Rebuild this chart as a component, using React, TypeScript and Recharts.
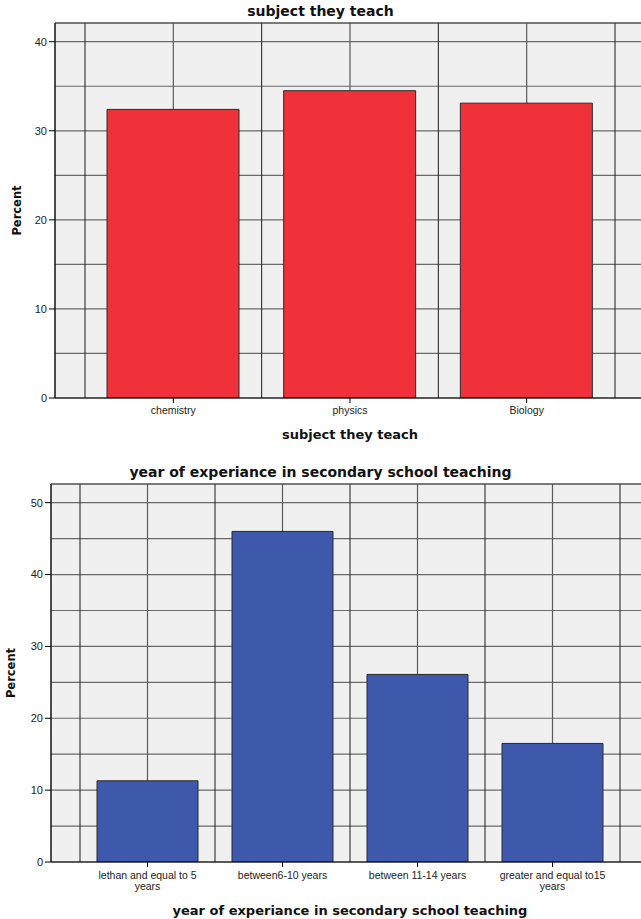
import React from 'react';
import { BarChart, Bar, XAxis, YAxis, CartesianGrid, ReferenceLine } from 'recharts';

const subjects = ['chemistry', 'physics', 'Biology'];
const subjectPercent = [32.4, 34.5, 33.1];
const subjectTicks = [0, 10, 20, 30, 40];
const subjectGridTicks = [0, 5, 10, 15, 20, 25, 30, 35, 40];

const yearGroups = [
  'lethan and equal to 5 years',
  'between6-10 years',
  'between 11-14 years',
  'greater and equal to15 years',
];
const yearPercent = [11.3, 46.0, 26.1, 16.5];
const yearTicks = [0, 10, 20, 30, 40, 50];
const yearGridTicks = [0, 5, 10, 15, 20, 25, 30, 35, 40, 45, 50];

const FONT = '"Liberation Sans", Arial, sans-serif';
const BOLD = '"DejaVu Sans", Verdana, sans-serif';

// category tick: mark + (wrapped) name at whole positions only, nothing at band edges
const CatTick = ({ x, y, payload, cats, firstDy }: any) => {
  const v = Number(payload.value);
  if (!Number.isInteger(v) || !cats[v]) return <g />;
  const label = String(cats[v]);
  const words = label.split(' ');
  const lines = label.length > 22 ? [words.slice(0, -1).join(' '), words[words.length - 1]] : [label];
  return (
    <g transform={`translate(${x},${y})`}>
      <line x1={0} x2={0} y1={-7} y2={-2} stroke="#000" />
      <text textAnchor="middle" fontSize={10.5} fill="#222" fontFamily={FONT}>
        {lines.map((l, i) => (
          <tspan key={i} x={0} dy={i === 0 ? firstDy : 10.5}>{l}</tspan>
        ))}
      </text>
    </g>
  );
};

const GridLine = (props: any) => {
  const { x1, x2, y1, y2, index } = props;
  const edge = index % 2 === 0;
  return (
    <line
      x1={x1} x2={x2} y1={y1} y2={y2}
      stroke={edge ? '#1a1a1a' : '#5a5a5a'}
      strokeWidth={edge ? 1 : 1.2}
    />
  );
};

type PanelProps = {
  cats: string[];
  values: number[];
  ticks: number[];
  gridTicks: number[];
  yMax: number;
  color: string;
  width: number;
  height: number;
  top: number;
  yWidth: number;
  xHeight: number;
  pad: number;
  barSize: number;
  title: string;
  titleTop: number;
  labelOffset: number;
  xLabelOffset: number;
  tickDy: number;
  panelTop: number;
};

const Panel = (p: PanelProps) => {
  const data = p.cats.map((c, i) => ({ idx: i, cat: c, value: p.values[i] }));
  const n = p.cats.length;
  const xTicks: number[] = [];
  for (let i = 0; i <= 2 * n; i++) xTicks.push(-0.5 + i / 2);
  return (
    <div style={{ position: 'absolute', left: 0, top: p.panelTop }}>
      <div
        style={{
          position: 'absolute', left: 0, width: 641, top: p.titleTop, textAlign: 'center',
          fontFamily: BOLD, fontWeight: 'bold', fontSize: 14, color: '#111', lineHeight: '16px',
        }}
      >
        {p.title}
      </div>
      <BarChart
        width={p.width}
        height={p.height}
        data={data}
        margin={{ top: p.top, right: 1, bottom: 0, left: 0 }}
      >
        <XAxis
          dataKey="idx"
          type="number"
          domain={[-0.5, n - 0.5]}
          ticks={xTicks}
          allowDataOverflow
          padding={{ left: p.pad, right: p.pad }}
          height={p.xHeight}
          interval={0}
          tickSize={5}
          tickMargin={2}
          tickLine={false}
          stroke="#000"
          tick={<CatTick cats={p.cats} firstDy={p.tickDy} />}
          label={{
            value: p.title, position: 'insideBottom', offset: p.xLabelOffset,
            style: { fontFamily: BOLD, fontWeight: 'bold', fontSize: 13, fill: '#111' },
          }}
        />
        <YAxis
          type="number"
          domain={[0, p.yMax]}
          ticks={p.ticks}
          allowDataOverflow
          width={p.yWidth}
          tickSize={6}
          tickMargin={2}
          stroke="#000"
          tick={{ fontSize: 11, fill: '#222', fontFamily: FONT }}
          label={{
            value: 'Percent', angle: -90, position: 'insideLeft', offset: p.labelOffset,
            style: { fontFamily: BOLD, fontWeight: 'bold', fontSize: 11.5, fill: '#111', textAnchor: 'middle' },
          }}
        />
        <YAxis yAxisId="grid" orientation="right" type="number" domain={[0, p.yMax]} ticks={p.gridTicks} allowDataOverflow hide />
        <CartesianGrid yAxisId="grid" vertical={false} stroke="#6a6a6a" fill="#f0f0f0" strokeWidth={1.2} />
        <CartesianGrid horizontal={false} vertical={(props: any) => <GridLine {...props} />} />
        <ReferenceLine y={p.yMax} stroke="#444" strokeWidth={1} />
        <Bar
          dataKey="value"
          fill={p.color}
          stroke="#2a2a2a"
          strokeWidth={1}
          barSize={p.barSize}
          isAnimationActive={false}
        />
      </BarChart>
    </div>
  );
};

export default function App() {
  return (
    <div style={{ position: 'absolute', left: 0, top: 0, width: 641, height: 919, overflow: 'hidden', background: '#fff' }}>
      <Panel
        cats={subjects}
        values={subjectPercent}
        ticks={subjectTicks}
        gridTicks={subjectGridTicks}
        yMax={42.1}
        color="#ef313a"
        width={646}
        height={445}
        top={23}
        yWidth={55}
        xHeight={47}
        pad={30}
        barSize={132}
        title="subject they teach"
        titleTop={3}
        labelOffset={17}
        xLabelOffset={6}
        tickDy={9}
        panelTop={0}
      />
      <Panel
        cats={yearGroups}
        values={yearPercent}
        ticks={yearTicks}
        gridTicks={yearGridTicks}
        yMax={52.6}
        color="#3e58ab"
        width={650}
        height={464}
        top={29}
        yWidth={51}
        xHeight={57}
        pad={29}
        barSize={101}
        title="year of experiance in secondary school teaching"
        titleTop={9}
        labelOffset={11}
        xLabelOffset={4}
        tickDy={10}
        panelTop={455}
      />
    </div>
  );
}
